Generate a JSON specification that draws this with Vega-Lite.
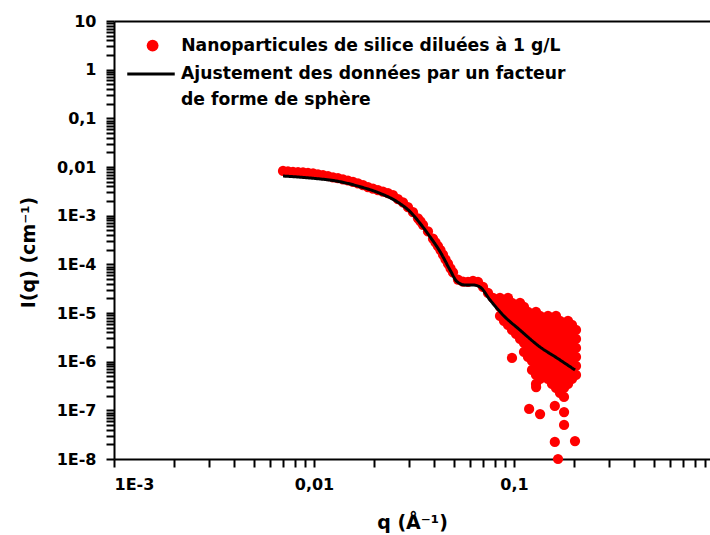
{
  "$schema": "https://vega.github.io/schema/vega-lite/v6.json",
  "autosize": "none",
  "padding": {"left": 114, "top": 21, "right": 0, "bottom": 76},
  "width": 596,
  "height": 438,
  "config": {
    "view": {"stroke": null},
    "font": "DejaVu Sans",
    "axis": {
      "grid": false,
      "domainColor": "black",
      "domainWidth": 2,
      "tickColor": "black",
      "tickWidth": 2,
      "tickSize": 8,
      "labelFont": "DejaVu Sans",
      "labelFontWeight": "bold",
      "labelFontSize": 16,
      "labelColor": "black",
      "labelOverlap": false,
      "titleFont": "DejaVu Sans",
      "titleFontWeight": "bold",
      "titleFontSize": 19,
      "titleColor": "black"
    },
    "legend": {
      "title": null,
      "labelFont": "DejaVu Sans",
      "labelFontWeight": "bold",
      "labelFontSize": 17.2,
      "labelColor": "black",
      "labelLimit": 0,
      "rowPadding": 2
    }
  },
  "datasets": {
    "pts": [
      {"q": 0.00700, "I": 0.00828}, {"q": 0.00741, "I": 0.00813}, {"q": 0.00785, "I": 0.00798}, {"q": 0.00832, "I": 0.00786},
      {"q": 0.00881, "I": 0.00771}, {"q": 0.00933, "I": 0.00757}, {"q": 0.00989, "I": 0.00740}, {"q": 0.01047, "I": 0.00708},
      {"q": 0.01109, "I": 0.00679}, {"q": 0.01175, "I": 0.00650}, {"q": 0.01245, "I": 0.00615}, {"q": 0.01318, "I": 0.00589},
      {"q": 0.01396, "I": 0.00558}, {"q": 0.01479, "I": 0.00528}, {"q": 0.01567, "I": 0.00492}, {"q": 0.01660, "I": 0.00463},
      {"q": 0.01758, "I": 0.00423}, {"q": 0.01862, "I": 0.00388}, {"q": 0.01972, "I": 0.00358}, {"q": 0.02089, "I": 0.00336},
      {"q": 0.02213, "I": 0.00313}, {"q": 0.02344, "I": 0.00292}, {"q": 0.02483, "I": 0.00265}, {"q": 0.02630, "I": 0.00218},
      {"q": 0.02786, "I": 0.00188}, {"q": 0.02951, "I": 0.00149}, {"q": 0.03126, "I": 0.00118}, {"q": 0.03311, "I": 0.000883},
      {"q": 0.03408, "I": 0.000762}, {"q": 0.03508, "I": 0.000650}, {"q": 0.03715, "I": 0.000473}, {"q": 0.03936, "I": 0.000337},
      {"q": 0.04051, "I": 0.000281}, {"q": 0.04169, "I": 0.000236}, {"q": 0.04290, "I": 0.000196}, {"q": 0.04416, "I": 0.000158},
      {"q": 0.04545, "I": 0.000127}, {"q": 0.04677, "I": 0.000103}, {"q": 0.04815, "I": 0.0000830}, {"q": 0.04955, "I": 0.0000681},
      {"q": 0.05248, "I": 0.0000486}, {"q": 0.05559, "I": 0.0000440}, {"q": 0.05888, "I": 0.0000434}, {"q": 0.06237, "I": 0.0000455},
      {"q": 0.06607, "I": 0.0000434}, {"q": 0.06998, "I": 0.0000343}, {"q": 0.07413, "I": 0.0000258}, {"q": 0.07852, "I": 0.0000204},
      {"q": 0.08318, "I": 0.0000161},
      {"q": 0.0851, "I": 2.035e-5}, {"q": 0.0851, "I": 1.329e-5}, {"q": 0.0851, "I": 8.685e-6},
      {"q": 0.0891, "I": 1.606e-5}, {"q": 0.0891, "I": 1.050e-5}, {"q": 0.0891, "I": 6.855e-6},
      {"q": 0.0933, "I": 2.035e-5}, {"q": 0.0933, "I": 1.329e-5}, {"q": 0.0933, "I": 8.685e-6}, {"q": 0.0933, "I": 5.674e-6},
      {"q": 0.0977, "I": 1.606e-5}, {"q": 0.0977, "I": 1.050e-5}, {"q": 0.0977, "I": 6.855e-6}, {"q": 0.0977, "I": 4.478e-6},
      {"q": 0.1023, "I": 1.329e-5}, {"q": 0.1023, "I": 8.685e-6}, {"q": 0.1023, "I": 5.674e-6}, {"q": 0.1023, "I": 3.706e-6},
      {"q": 0.1072, "I": 1.606e-5}, {"q": 0.1072, "I": 1.050e-5}, {"q": 0.1072, "I": 6.855e-6}, {"q": 0.1072, "I": 4.478e-6}, {"q": 0.1072, "I": 2.925e-6},
      {"q": 0.1122, "I": 1.329e-5}, {"q": 0.1122, "I": 8.685e-6}, {"q": 0.1122, "I": 5.674e-6}, {"q": 0.1122, "I": 3.706e-6}, {"q": 0.1122, "I": 2.421e-6}, {"q": 0.1122, "I": 1.581e-6},
      {"q": 0.1175, "I": 1.050e-5}, {"q": 0.1175, "I": 6.855e-6}, {"q": 0.1175, "I": 4.478e-6}, {"q": 0.1175, "I": 2.925e-6}, {"q": 0.1175, "I": 1.911e-6}, {"q": 0.1175, "I": 1.248e-6},
      {"q": 0.1230, "I": 8.685e-6}, {"q": 0.1230, "I": 5.674e-6}, {"q": 0.1230, "I": 3.706e-6}, {"q": 0.1230, "I": 2.421e-6}, {"q": 0.1230, "I": 1.581e-6}, {"q": 0.1230, "I": 1.033e-6}, {"q": 0.1230, "I": 6.750e-7},
      {"q": 0.1288, "I": 1.050e-5}, {"q": 0.1288, "I": 6.855e-6}, {"q": 0.1288, "I": 4.478e-6}, {"q": 0.1288, "I": 2.925e-6}, {"q": 0.1288, "I": 1.911e-6}, {"q": 0.1288, "I": 1.248e-6}, {"q": 0.1288, "I": 8.156e-7}, {"q": 0.1288, "I": 5.327e-7}, {"q": 0.1288, "I": 3.480e-7},
      {"q": 0.1349, "I": 8.685e-6}, {"q": 0.1349, "I": 5.674e-6}, {"q": 0.1349, "I": 3.706e-6}, {"q": 0.1349, "I": 2.421e-6}, {"q": 0.1349, "I": 1.581e-6}, {"q": 0.1349, "I": 1.033e-6}, {"q": 0.1349, "I": 6.750e-7}, {"q": 0.1349, "I": 4.409e-7},
      {"q": 0.1413, "I": 6.855e-6}, {"q": 0.1413, "I": 4.478e-6}, {"q": 0.1413, "I": 2.925e-6}, {"q": 0.1413, "I": 1.911e-6}, {"q": 0.1413, "I": 1.248e-6}, {"q": 0.1413, "I": 8.156e-7}, {"q": 0.1413, "I": 5.327e-7},
      {"q": 0.1479, "I": 8.685e-6}, {"q": 0.1479, "I": 5.674e-6}, {"q": 0.1479, "I": 3.706e-6}, {"q": 0.1479, "I": 2.421e-6}, {"q": 0.1479, "I": 1.581e-6}, {"q": 0.1479, "I": 1.033e-6}, {"q": 0.1479, "I": 6.750e-7}, {"q": 0.1479, "I": 4.409e-7},
      {"q": 0.1549, "I": 6.855e-6}, {"q": 0.1549, "I": 4.478e-6}, {"q": 0.1549, "I": 2.925e-6}, {"q": 0.1549, "I": 1.911e-6}, {"q": 0.1549, "I": 1.248e-6}, {"q": 0.1549, "I": 8.156e-7}, {"q": 0.1549, "I": 5.327e-7}, {"q": 0.1549, "I": 3.480e-7},
      {"q": 0.1622, "I": 8.685e-6}, {"q": 0.1622, "I": 5.674e-6}, {"q": 0.1622, "I": 3.706e-6}, {"q": 0.1622, "I": 2.421e-6}, {"q": 0.1622, "I": 1.581e-6}, {"q": 0.1622, "I": 1.033e-6}, {"q": 0.1622, "I": 6.750e-7}, {"q": 0.1622, "I": 4.409e-7}, {"q": 0.1622, "I": 2.880e-7},
      {"q": 0.1698, "I": 6.855e-6}, {"q": 0.1698, "I": 4.478e-6}, {"q": 0.1698, "I": 2.925e-6}, {"q": 0.1698, "I": 1.911e-6}, {"q": 0.1698, "I": 1.248e-6}, {"q": 0.1698, "I": 8.156e-7}, {"q": 0.1698, "I": 5.327e-7}, {"q": 0.1698, "I": 3.480e-7}, {"q": 0.1698, "I": 2.273e-7},
      {"q": 0.1778, "I": 5.674e-6}, {"q": 0.1778, "I": 3.706e-6}, {"q": 0.1778, "I": 2.421e-6}, {"q": 0.1778, "I": 1.581e-6}, {"q": 0.1778, "I": 1.033e-6}, {"q": 0.1778, "I": 6.750e-7}, {"q": 0.1778, "I": 4.409e-7}, {"q": 0.1778, "I": 2.880e-7}, {"q": 0.1778, "I": 1.881e-7},
      {"q": 0.1862, "I": 6.855e-6}, {"q": 0.1862, "I": 4.478e-6}, {"q": 0.1862, "I": 2.925e-6}, {"q": 0.1862, "I": 1.911e-6}, {"q": 0.1862, "I": 1.248e-6}, {"q": 0.1862, "I": 8.156e-7}, {"q": 0.1862, "I": 5.327e-7}, {"q": 0.1862, "I": 3.480e-7},
      {"q": 0.1950, "I": 5.674e-6}, {"q": 0.1950, "I": 3.706e-6}, {"q": 0.1950, "I": 2.421e-6}, {"q": 0.1950, "I": 1.581e-6}, {"q": 0.1950, "I": 1.033e-6}, {"q": 0.1950, "I": 6.750e-7}, {"q": 0.1950, "I": 4.409e-7},
      {"q": 0.2042, "I": 4.478e-6}, {"q": 0.2042, "I": 2.925e-6}, {"q": 0.2042, "I": 1.911e-6}, {"q": 0.2042, "I": 1.248e-6}, {"q": 0.2042, "I": 8.156e-7}, {"q": 0.2042, "I": 5.327e-7},
      {"q": 0.0977, "I": 1.19e-6}, {"q": 0.129, "I": 3.0e-7}, {"q": 0.119, "I": 1.07e-7}, {"q": 0.135, "I": 8.4e-8},
      {"q": 0.160, "I": 1.23e-7}, {"q": 0.178, "I": 9.2e-8}, {"q": 0.178, "I": 5.0e-8}, {"q": 0.160, "I": 2.24e-8},
      {"q": 0.2018, "I": 2.34e-8}, {"q": 0.166, "I": 1.0e-8}
    ],
    "fit": [
      {"q": 0.0070, "I": 0.00653}, {"q": 0.00955, "I": 0.00594}, {"q": 0.01349, "I": 0.00499}, {"q": 0.01698, "I": 0.00394},
      {"q": 0.02138, "I": 0.00288}, {"q": 0.0260, "I": 0.00194}, {"q": 0.0302, "I": 0.00121}, {"q": 0.0339, "I": 0.000697},
      {"q": 0.0380, "I": 0.000370}, {"q": 0.0427, "I": 0.000182}, {"q": 0.0479, "I": 0.0000766}, {"q": 0.0519, "I": 0.0000440},
      {"q": 0.0569, "I": 0.0000377}, {"q": 0.0624, "I": 0.0000377}, {"q": 0.0676, "I": 0.0000342}, {"q": 0.0759, "I": 0.0000185},
      {"q": 0.0881, "I": 0.0000091}, {"q": 0.107, "I": 0.00000448}, {"q": 0.135, "I": 0.0000020}, {"q": 0.164, "I": 0.00000119},
      {"q": 0.2018, "I": 0.000000675}
    ]
  },
  "encoding": {
    "x": {
      "field": "q", "type": "quantitative",
      "scale": {"type": "log", "domain": [0.001, 0.955], "nice": false},
      "axis": {
        "orient": "bottom",
        "title": "q (Å⁻¹)",
        "titlePadding": 21,
        "labelPadding": 9,
        "values": [0.001, 0.002, 0.003, 0.004, 0.005, 0.006, 0.007, 0.008, 0.009, 0.01, 0.02, 0.03, 0.04, 0.05, 0.06, 0.07, 0.08, 0.09, 0.1, 0.2, 0.3, 0.4, 0.5, 0.6, 0.7, 0.8, 0.9],
        "encode": {"ticks": {"update": {"y2": {"signal": "abs(log(datum.value)/LN10 - round(log(datum.value)/LN10)) < 0.01 ? 8 : 5"}}}},
        "labelExpr": "abs(log(datum.value)/LN10 - round(log(datum.value)/LN10)) < 0.01 ? (datum.value > 0.05 ? '0,1' : datum.value > 0.005 ? '0,01' : '1E' + round(log(datum.value)/LN10)) : ''"
      }
    },
    "y": {
      "field": "I", "type": "quantitative",
      "scale": {"type": "log", "domain": [1e-8, 10], "nice": false},
      "axis": {
        "orient": "left",
        "title": "I(q) (cm⁻¹)",
        "titlePadding": 18,
        "titleY": 231,
        "labelPadding": 10,
        "values": [1e-8, 2e-8, 3e-8, 4e-8, 5e-8, 6e-8, 7e-8, 8e-8, 9e-8, 1e-7, 2e-7, 3e-7, 4e-7, 5e-7, 6e-7, 7e-7, 8e-7, 9e-7, 1e-6, 2e-6, 3e-6, 4e-6, 5e-6, 6e-6, 7e-6, 8e-6, 9e-6, 1e-5, 2e-5, 3e-5, 4e-5, 5e-5, 6e-5, 7e-5, 8e-5, 9e-5, 1e-4, 2e-4, 3e-4, 4e-4, 5e-4, 6e-4, 7e-4, 8e-4, 9e-4, 0.001, 0.002, 0.003, 0.004, 0.005, 0.006, 0.007, 0.008, 0.009, 0.01, 0.02, 0.03, 0.04, 0.05, 0.06, 0.07, 0.08, 0.09, 0.1, 0.2, 0.3, 0.4, 0.5, 0.6, 0.7, 0.8, 0.9, 1, 2, 3, 4, 5, 6, 7, 8, 9, 10],
        "encode": {"ticks": {"update": {"x2": {"signal": "abs(log(datum.value)/LN10 - round(log(datum.value)/LN10)) < 0.01 ? -8 : -4"}}}},
        "labelExpr": "abs(log(datum.value)/LN10 - round(log(datum.value)/LN10)) < 0.01 ? (datum.value > 5 ? '10' : datum.value > 0.5 ? '1' : datum.value > 0.05 ? '0,1' : datum.value > 0.005 ? '0,01' : '1E' + round(log(datum.value)/LN10)) : ''"
      }
    }
  },
  "layer": [
    {
      "data": {"name": "pts"},
      "mark": {"type": "circle", "size": 105, "opacity": 1},
      "encoding": {
        "color": {
          "datum": "Nanoparticules de silice diluées à 1 g/L",
          "scale": {"domain": ["Nanoparticules de silice diluées à 1 g/L"], "range": ["#ff0000"]},
          "legend": {
            "orient": "none",
            "legendX": 30,
            "legendY": 16,
            "symbolType": "circle",
            "symbolSize": 140,
            "symbolOpacity": 1,
            "labelOffset": 20
          }
        }
      }
    },
    {
      "data": {"name": "fit"},
      "mark": {"type": "line", "strokeWidth": 3, "interpolate": "monotone", "color": "black"},
      "encoding": {
        "x": {
          "field": "q", "type": "quantitative",
          "scale": {"type": "log", "domain": [0.001, 0.955], "nice": false},
          "axis": {"orient": "top", "labels": false, "ticks": false, "title": null, "domainWidth": 2, "domainColor": "black"}
        },
        "strokeDash": {
          "datum": "Ajustement des données par un facteur",
          "scale": {"domain": ["Ajustement des données par un facteur", "de forme de sphère"], "range": [[1, 0], [0, 100]]},
          "legend": {
            "orient": "none",
            "legendX": 26,
            "legendY": 42,
            "rowPadding": 6,
            "symbolType": "M-2.5,0H2.5",
            "symbolSize": 361,
            "symbolStrokeColor": "black",
            "symbolStrokeWidth": 3,
            "symbolOpacity": 1,
            "labelOffset": 19
          }
        }
      }
    }
  ],
  "resolve": {"axis": {"x": "independent"}}
}
